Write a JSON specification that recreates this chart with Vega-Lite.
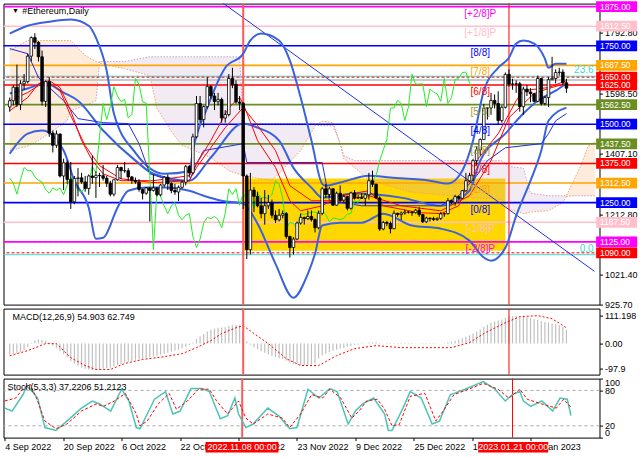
{
"$schema":"https://vega.github.io/schema/vega-lite/v6.json",
"background":"white",
"padding":{"left":1.5,"top":0.6,"right":0,"bottom":0},
"spacing":4,
"bounds":"flush",
"config":{"view":{"stroke":"#000","strokeWidth":1},"font":"Liberation Sans","axis":{"domain":false,"grid":false,"labelFont":"Liberation Sans","labelFontSize":9,"labelColor":"#000","tickColor":"#000","tickSize":3,"labelPadding":2}},
"datasets":{
"candles":[
{"date":"2022-09-04","o":1555,"h":1585,"l":1540,"c":1575},
{"date":"2022-09-05","o":1575,"h":1625,"l":1560,"c":1618},
{"date":"2022-09-06","o":1618,"h":1690,"l":1555,"c":1563},
{"date":"2022-09-07","o":1563,"h":1640,"l":1545,"c":1629},
{"date":"2022-09-08","o":1629,"h":1660,"l":1610,"c":1636},
{"date":"2022-09-09","o":1636,"h":1725,"l":1630,"c":1717},
{"date":"2022-09-10","o":1717,"h":1780,"l":1700,"c":1776},
{"date":"2022-09-11","o":1776,"h":1790,"l":1740,"c":1761},
{"date":"2022-09-12","o":1761,"h":1765,"l":1700,"c":1715},
{"date":"2022-09-13","o":1715,"h":1735,"l":1560,"c":1573},
{"date":"2022-09-14","o":1573,"h":1640,"l":1555,"c":1636},
{"date":"2022-09-15","o":1636,"h":1650,"l":1460,"c":1472},
{"date":"2022-09-16","o":1472,"h":1480,"l":1410,"c":1433},
{"date":"2022-09-17","o":1433,"h":1480,"l":1425,"c":1469},
{"date":"2022-09-18","o":1469,"h":1470,"l":1330,"c":1335},
{"date":"2022-09-19","o":1335,"h":1390,"l":1290,"c":1377},
{"date":"2022-09-20","o":1377,"h":1385,"l":1310,"c":1324},
{"date":"2022-09-21","o":1324,"h":1380,"l":1230,"c":1253},
{"date":"2022-09-22","o":1253,"h":1335,"l":1245,"c":1327},
{"date":"2022-09-23","o":1327,"h":1360,"l":1270,"c":1329},
{"date":"2022-09-24","o":1329,"h":1345,"l":1310,"c":1316},
{"date":"2022-09-25","o":1316,"h":1335,"l":1285,"c":1295},
{"date":"2022-09-26","o":1295,"h":1340,"l":1275,"c":1335},
{"date":"2022-09-27","o":1335,"h":1400,"l":1310,"c":1330},
{"date":"2022-09-28","o":1330,"h":1350,"l":1265,"c":1337},
{"date":"2022-09-29","o":1337,"h":1345,"l":1300,"c":1336},
{"date":"2022-09-30","o":1336,"h":1370,"l":1320,"c":1328},
{"date":"2022-10-01","o":1328,"h":1335,"l":1300,"c":1312},
{"date":"2022-10-02","o":1312,"h":1320,"l":1270,"c":1277},
{"date":"2022-10-03","o":1277,"h":1325,"l":1270,"c":1323},
{"date":"2022-10-04","o":1323,"h":1370,"l":1320,"c":1362},
{"date":"2022-10-05","o":1362,"h":1365,"l":1325,"c":1352},
{"date":"2022-10-06","o":1352,"h":1380,"l":1345,"c":1352},
{"date":"2022-10-07","o":1352,"h":1360,"l":1320,"c":1332},
{"date":"2022-10-08","o":1332,"h":1335,"l":1310,"c":1321},
{"date":"2022-10-09","o":1321,"h":1330,"l":1310,"c":1316},
{"date":"2022-10-10","o":1316,"h":1325,"l":1285,"c":1292},
{"date":"2022-10-11","o":1292,"h":1295,"l":1260,"c":1280},
{"date":"2022-10-12","o":1280,"h":1300,"l":1275,"c":1297},
{"date":"2022-10-13","o":1297,"h":1300,"l":1190,"c":1289},
{"date":"2022-10-14","o":1289,"h":1340,"l":1285,"c":1297},
{"date":"2022-10-15","o":1297,"h":1300,"l":1270,"c":1275},
{"date":"2022-10-16","o":1275,"h":1310,"l":1270,"c":1306},
{"date":"2022-10-17","o":1306,"h":1335,"l":1300,"c":1331},
{"date":"2022-10-18","o":1331,"h":1340,"l":1290,"c":1311},
{"date":"2022-10-19","o":1311,"h":1315,"l":1280,"c":1289},
{"date":"2022-10-20","o":1289,"h":1310,"l":1275,"c":1284},
{"date":"2022-10-21","o":1284,"h":1305,"l":1255,"c":1299},
{"date":"2022-10-22","o":1299,"h":1320,"l":1295,"c":1315},
{"date":"2022-10-23","o":1315,"h":1370,"l":1305,"c":1365},
{"date":"2022-10-24","o":1365,"h":1370,"l":1330,"c":1345},
{"date":"2022-10-25","o":1345,"h":1470,"l":1340,"c":1460},
{"date":"2022-10-26","o":1460,"h":1590,"l":1455,"c":1566},
{"date":"2022-10-27","o":1566,"h":1590,"l":1505,"c":1515},
{"date":"2022-10-28","o":1515,"h":1560,"l":1490,"c":1556},
{"date":"2022-10-29","o":1556,"h":1650,"l":1550,"c":1620},
{"date":"2022-10-30","o":1620,"h":1625,"l":1580,"c":1590},
{"date":"2022-10-31","o":1590,"h":1600,"l":1545,"c":1572},
{"date":"2022-11-01","o":1572,"h":1600,"l":1560,"c":1579},
{"date":"2022-11-02","o":1579,"h":1585,"l":1505,"c":1520},
{"date":"2022-11-03","o":1520,"h":1545,"l":1505,"c":1531},
{"date":"2022-11-04","o":1531,"h":1660,"l":1525,"c":1646},
{"date":"2022-11-05","o":1646,"h":1680,"l":1615,"c":1627},
{"date":"2022-11-06","o":1627,"h":1640,"l":1565,"c":1571},
{"date":"2022-11-07","o":1571,"h":1590,"l":1545,"c":1567},
{"date":"2022-11-08","o":1567,"h":1570,"l":1230,"c":1335},
{"date":"2022-11-09","o":1335,"h":1340,"l":1070,"c":1100},
{"date":"2022-11-10","o":1100,"h":1345,"l":1085,"c":1290},
{"date":"2022-11-11","o":1290,"h":1300,"l":1220,"c":1270},
{"date":"2022-11-12","o":1270,"h":1285,"l":1235,"c":1240},
{"date":"2022-11-13","o":1240,"h":1265,"l":1200,"c":1215},
{"date":"2022-11-14","o":1215,"h":1290,"l":1180,"c":1240},
{"date":"2022-11-15","o":1240,"h":1275,"l":1230,"c":1250},
{"date":"2022-11-16","o":1250,"h":1260,"l":1200,"c":1210},
{"date":"2022-11-17","o":1210,"h":1225,"l":1185,"c":1195},
{"date":"2022-11-18","o":1195,"h":1230,"l":1190,"c":1210},
{"date":"2022-11-19","o":1210,"h":1225,"l":1200,"c":1215},
{"date":"2022-11-20","o":1215,"h":1220,"l":1135,"c":1142},
{"date":"2022-11-21","o":1142,"h":1145,"l":1075,"c":1107},
{"date":"2022-11-22","o":1107,"h":1140,"l":1085,"c":1134},
{"date":"2022-11-23","o":1134,"h":1190,"l":1130,"c":1185},
{"date":"2022-11-24","o":1185,"h":1215,"l":1180,"c":1203},
{"date":"2022-11-25","o":1203,"h":1205,"l":1180,"c":1199},
{"date":"2022-11-26","o":1199,"h":1225,"l":1195,"c":1206},
{"date":"2022-11-27","o":1206,"h":1225,"l":1190,"c":1196},
{"date":"2022-11-28","o":1196,"h":1200,"l":1155,"c":1170},
{"date":"2022-11-29","o":1170,"h":1225,"l":1165,"c":1216},
{"date":"2022-11-30","o":1216,"h":1300,"l":1210,"c":1294},
{"date":"2022-12-01","o":1294,"h":1310,"l":1265,"c":1276},
{"date":"2022-12-02","o":1276,"h":1300,"l":1265,"c":1294},
{"date":"2022-12-03","o":1294,"h":1295,"l":1240,"c":1242},
{"date":"2022-12-04","o":1242,"h":1285,"l":1240,"c":1280},
{"date":"2022-12-05","o":1280,"h":1305,"l":1250,"c":1258},
{"date":"2022-12-06","o":1258,"h":1275,"l":1250,"c":1270},
{"date":"2022-12-07","o":1270,"h":1272,"l":1225,"c":1232},
{"date":"2022-12-08","o":1232,"h":1285,"l":1228,"c":1281},
{"date":"2022-12-09","o":1281,"h":1290,"l":1260,"c":1265},
{"date":"2022-12-10","o":1265,"h":1275,"l":1262,"c":1266},
{"date":"2022-12-11","o":1266,"h":1280,"l":1262,"c":1264},
{"date":"2022-12-12","o":1264,"h":1280,"l":1240,"c":1275},
{"date":"2022-12-13","o":1275,"h":1345,"l":1260,"c":1320},
{"date":"2022-12-14","o":1320,"h":1352,"l":1300,"c":1309},
{"date":"2022-12-15","o":1309,"h":1310,"l":1262,"c":1265},
{"date":"2022-12-16","o":1265,"h":1270,"l":1160,"c":1166},
{"date":"2022-12-17","o":1166,"h":1192,"l":1162,"c":1187},
{"date":"2022-12-18","o":1187,"h":1192,"l":1175,"c":1184},
{"date":"2022-12-19","o":1184,"h":1190,"l":1152,"c":1167},
{"date":"2022-12-20","o":1167,"h":1225,"l":1165,"c":1216},
{"date":"2022-12-21","o":1216,"h":1218,"l":1205,"c":1212},
{"date":"2022-12-22","o":1212,"h":1222,"l":1195,"c":1217},
{"date":"2022-12-23","o":1217,"h":1228,"l":1212,"c":1220},
{"date":"2022-12-24","o":1220,"h":1223,"l":1215,"c":1220},
{"date":"2022-12-25","o":1220,"h":1222,"l":1208,"c":1218},
{"date":"2022-12-26","o":1218,"h":1230,"l":1215,"c":1226},
{"date":"2022-12-27","o":1226,"h":1235,"l":1205,"c":1212},
{"date":"2022-12-28","o":1212,"h":1214,"l":1185,"c":1189},
{"date":"2022-12-29","o":1189,"h":1205,"l":1185,"c":1201},
{"date":"2022-12-30","o":1201,"h":1202,"l":1190,"c":1199},
{"date":"2022-12-31","o":1199,"h":1205,"l":1192,"c":1196},
{"date":"2023-01-01","o":1196,"h":1203,"l":1192,"c":1200},
{"date":"2023-01-02","o":1200,"h":1220,"l":1195,"c":1214},
{"date":"2023-01-03","o":1214,"h":1218,"l":1205,"c":1215},
{"date":"2023-01-04","o":1215,"h":1265,"l":1212,"c":1256},
{"date":"2023-01-05","o":1256,"h":1258,"l":1245,"c":1251},
{"date":"2023-01-06","o":1251,"h":1275,"l":1240,"c":1269},
{"date":"2023-01-07","o":1269,"h":1272,"l":1260,"c":1264},
{"date":"2023-01-08","o":1264,"h":1290,"l":1262,"c":1288},
{"date":"2023-01-09","o":1288,"h":1345,"l":1285,"c":1320},
{"date":"2023-01-10","o":1320,"h":1345,"l":1315,"c":1336},
{"date":"2023-01-11","o":1336,"h":1390,"l":1320,"c":1384},
{"date":"2023-01-12","o":1384,"h":1430,"l":1370,"c":1418},
{"date":"2023-01-13","o":1418,"h":1455,"l":1400,"c":1451},
{"date":"2023-01-14","o":1451,"h":1565,"l":1450,"c":1551},
{"date":"2023-01-15","o":1551,"h":1555,"l":1515,"c":1552},
{"date":"2023-01-16","o":1552,"h":1600,"l":1530,"c":1576},
{"date":"2023-01-17","o":1576,"h":1595,"l":1550,"c":1566},
{"date":"2023-01-18","o":1566,"h":1605,"l":1500,"c":1512},
{"date":"2023-01-19","o":1512,"h":1560,"l":1505,"c":1554},
{"date":"2023-01-20","o":1554,"h":1665,"l":1550,"c":1659},
{"date":"2023-01-21","o":1659,"h":1675,"l":1620,"c":1628},
{"date":"2023-01-22","o":1628,"h":1645,"l":1610,"c":1628},
{"date":"2023-01-23","o":1628,"h":1640,"l":1600,"c":1629},
{"date":"2023-01-24","o":1629,"h":1635,"l":1540,"c":1556},
{"date":"2023-01-25","o":1556,"h":1620,"l":1530,"c":1612},
{"date":"2023-01-26","o":1612,"h":1625,"l":1590,"c":1603},
{"date":"2023-01-27","o":1603,"h":1615,"l":1570,"c":1597},
{"date":"2023-01-28","o":1597,"h":1600,"l":1570,"c":1573},
{"date":"2023-01-29","o":1573,"h":1655,"l":1570,"c":1646},
{"date":"2023-01-30","o":1646,"h":1648,"l":1560,"c":1566},
{"date":"2023-01-31","o":1566,"h":1590,"l":1560,"c":1585},
{"date":"2023-02-01","o":1585,"h":1650,"l":1555,"c":1642},
{"date":"2023-02-02","o":1642,"h":1715,"l":1640,"c":1646},
{"date":"2023-02-03","o":1646,"h":1675,"l":1630,"c":1665},
{"date":"2023-02-04","o":1665,"h":1680,"l":1655,"c":1666},
{"date":"2023-02-05","o":1666,"h":1675,"l":1625,"c":1632},
{"date":"2023-02-06","o":1632,"h":1645,"l":1600,"c":1615}
],
"bands":[
{"s":"upper","date":"2022-09-04","p":1789},{"s":"upper","date":"2022-09-09","p":1814},{"s":"upper","date":"2022-09-15","p":1827},{"s":"upper","date":"2022-09-21","p":1834},{"s":"upper","date":"2022-09-26","p":1814},{"s":"upper","date":"2022-09-28","p":1776},{"s":"upper","date":"2022-10-01","p":1670},{"s":"upper","date":"2022-10-03","p":1534},{"s":"upper","date":"2022-10-09","p":1409},{"s":"upper","date":"2022-10-17","p":1342},{"s":"upper","date":"2022-10-24","p":1350},{"s":"upper","date":"2022-10-25","p":1416},{"s":"upper","date":"2022-10-29","p":1553},{"s":"upper","date":"2022-11-03","p":1680},{"s":"upper","date":"2022-11-08","p":1725},{"s":"upper","date":"2022-11-10","p":1767},{"s":"upper","date":"2022-11-13","p":1789},{"s":"upper","date":"2022-11-18","p":1767},{"s":"upper","date":"2022-11-21","p":1703},{"s":"upper","date":"2022-11-24","p":1585},{"s":"upper","date":"2022-11-27","p":1448},{"s":"upper","date":"2022-11-30","p":1310},{"s":"upper","date":"2022-12-01","p":1304},{"s":"upper","date":"2022-12-05","p":1314},{"s":"upper","date":"2022-12-13","p":1336},{"s":"upper","date":"2022-12-19","p":1330},{"s":"upper","date":"2022-12-30","p":1320},{"s":"upper","date":"2023-01-04","p":1311},{"s":"upper","date":"2023-01-08","p":1352},{"s":"upper","date":"2023-01-11","p":1448},{"s":"upper","date":"2023-01-14","p":1607},{"s":"upper","date":"2023-01-18","p":1680},{"s":"upper","date":"2023-01-21","p":1712},{"s":"upper","date":"2023-01-23","p":1757},{"s":"upper","date":"2023-01-25","p":1767},{"s":"upper","date":"2023-01-28","p":1757},{"s":"upper","date":"2023-01-31","p":1709},{"s":"upper","date":"2023-02-01","p":1680},{"s":"upper","date":"2023-02-03","p":1693},{"s":"upper","date":"2023-02-06","p":1693},
{"s":"middle","date":"2022-09-04","p":1598},{"s":"middle","date":"2022-09-09","p":1614},{"s":"middle","date":"2022-09-14","p":1630},{"s":"middle","date":"2022-09-19","p":1601},{"s":"middle","date":"2022-09-23","p":1575},{"s":"middle","date":"2022-09-30","p":1480},{"s":"middle","date":"2022-10-09","p":1384},{"s":"middle","date":"2022-10-14","p":1342},{"s":"middle","date":"2022-10-24","p":1320},{"s":"middle","date":"2022-10-30","p":1394},{"s":"middle","date":"2022-11-08","p":1502},{"s":"middle","date":"2022-11-12","p":1489},{"s":"middle","date":"2022-11-18","p":1448},{"s":"middle","date":"2022-11-22","p":1361},{"s":"middle","date":"2022-11-27","p":1298},{"s":"middle","date":"2022-11-30","p":1266},{"s":"middle","date":"2022-12-09","p":1279},{"s":"middle","date":"2022-12-22","p":1266},{"s":"middle","date":"2023-01-02","p":1240},{"s":"middle","date":"2023-01-10","p":1288},{"s":"middle","date":"2023-01-13","p":1384},{"s":"middle","date":"2023-01-20","p":1470},{"s":"middle","date":"2023-01-25","p":1534},{"s":"middle","date":"2023-01-29","p":1575},{"s":"middle","date":"2023-02-03","p":1607},{"s":"middle","date":"2023-02-06","p":1630},
{"s":"lower","date":"2022-09-04","p":1406},{"s":"lower","date":"2022-09-09","p":1470},{"s":"lower","date":"2022-09-13","p":1480},{"s":"lower","date":"2022-09-19","p":1416},{"s":"lower","date":"2022-09-22","p":1320},{"s":"lower","date":"2022-09-26","p":1234},{"s":"lower","date":"2022-09-28","p":1135},{"s":"lower","date":"2022-09-30","p":1138},{"s":"lower","date":"2022-10-04","p":1234},{"s":"lower","date":"2022-10-07","p":1288},{"s":"lower","date":"2022-10-12","p":1298},{"s":"lower","date":"2022-10-17","p":1298},{"s":"lower","date":"2022-10-24","p":1288},{"s":"lower","date":"2022-10-28","p":1272},{"s":"lower","date":"2022-11-02","p":1256},{"s":"lower","date":"2022-11-08","p":1247},{"s":"lower","date":"2022-11-12","p":1183},{"s":"lower","date":"2022-11-17","p":1055},{"s":"lower","date":"2022-11-22","p":947},{"s":"lower","date":"2022-11-26","p":1023},{"s":"lower","date":"2022-11-28","p":1087},{"s":"lower","date":"2022-11-30","p":1177},{"s":"lower","date":"2022-12-05","p":1186},{"s":"lower","date":"2022-12-11","p":1186},{"s":"lower","date":"2022-12-17","p":1215},{"s":"lower","date":"2022-12-25","p":1177},{"s":"lower","date":"2023-01-02","p":1167},{"s":"lower","date":"2023-01-10","p":1129},{"s":"lower","date":"2023-01-14","p":1075},{"s":"lower","date":"2023-01-16","p":1065},{"s":"lower","date":"2023-01-20","p":1106},{"s":"lower","date":"2023-01-23","p":1208},{"s":"lower","date":"2023-01-27","p":1320},{"s":"lower","date":"2023-01-30","p":1416},{"s":"lower","date":"2023-02-01","p":1511},{"s":"lower","date":"2023-02-06","p":1553},
{"s":"kijun","date":"2022-09-04","p":1741},{"s":"kijun","date":"2022-09-09","p":1725},{"s":"kijun","date":"2022-09-12","p":1649},{"s":"kijun","date":"2022-09-15","p":1617},{"s":"kijun","date":"2022-09-19","p":1575},{"s":"kijun","date":"2022-09-23","p":1518},{"s":"kijun","date":"2022-09-30","p":1505},{"s":"kijun","date":"2022-10-07","p":1502},{"s":"kijun","date":"2022-10-10","p":1438},{"s":"kijun","date":"2022-10-13","p":1342},{"s":"kijun","date":"2022-10-19","p":1320},{"s":"kijun","date":"2022-10-24","p":1320},{"s":"kijun","date":"2022-10-26","p":1374},{"s":"kijun","date":"2022-10-28","p":1416},{"s":"kijun","date":"2022-11-08","p":1438},{"s":"kijun","date":"2022-11-09","p":1378},{"s":"kijun","date":"2022-11-30","p":1378},{"s":"kijun","date":"2022-12-02","p":1256},{"s":"kijun","date":"2022-12-11","p":1240},{"s":"kijun","date":"2023-01-02","p":1240},{"s":"kijun","date":"2023-01-07","p":1272},{"s":"kijun","date":"2023-01-12","p":1336},{"s":"kijun","date":"2023-01-15","p":1384},{"s":"kijun","date":"2023-01-20","p":1425},{"s":"kijun","date":"2023-01-30","p":1438},{"s":"kijun","date":"2023-02-01","p":1470},{"s":"kijun","date":"2023-02-03","p":1511},{"s":"kijun","date":"2023-02-06","p":1534},
{"s":"tenkan","date":"2022-09-04","p":1543},{"s":"tenkan","date":"2022-09-09","p":1585},{"s":"tenkan","date":"2022-09-12","p":1629},{"s":"tenkan","date":"2022-09-15","p":1639},{"s":"tenkan","date":"2022-09-18","p":1617},{"s":"tenkan","date":"2022-09-21","p":1543},{"s":"tenkan","date":"2022-09-24","p":1448},{"s":"tenkan","date":"2022-09-27","p":1384},{"s":"tenkan","date":"2022-09-30","p":1342},{"s":"tenkan","date":"2022-10-05","p":1320},{"s":"tenkan","date":"2022-10-14","p":1320},{"s":"tenkan","date":"2022-10-24","p":1336},{"s":"tenkan","date":"2022-10-30","p":1448},{"s":"tenkan","date":"2022-11-04","p":1553},{"s":"tenkan","date":"2022-11-07","p":1585},{"s":"tenkan","date":"2022-11-08","p":1566},{"s":"tenkan","date":"2022-11-12","p":1448},{"s":"tenkan","date":"2022-11-17","p":1362},{"s":"tenkan","date":"2022-11-21","p":1256},{"s":"tenkan","date":"2022-11-24","p":1224},{"s":"tenkan","date":"2022-11-30","p":1240},{"s":"tenkan","date":"2022-12-05","p":1272},{"s":"tenkan","date":"2022-12-13","p":1288},{"s":"tenkan","date":"2022-12-17","p":1240},{"s":"tenkan","date":"2022-12-27","p":1218},{"s":"tenkan","date":"2023-01-02","p":1215},{"s":"tenkan","date":"2023-01-07","p":1240},{"s":"tenkan","date":"2023-01-12","p":1384},{"s":"tenkan","date":"2023-01-18","p":1470},{"s":"tenkan","date":"2023-01-23","p":1575},{"s":"tenkan","date":"2023-01-25","p":1607},{"s":"tenkan","date":"2023-02-01","p":1617},{"s":"tenkan","date":"2023-02-06","p":1639},
{"s":"ma","date":"2022-09-04","p":1575},{"s":"ma","date":"2022-09-09","p":1601},{"s":"ma","date":"2022-09-12","p":1623},{"s":"ma","date":"2022-09-15","p":1633},{"s":"ma","date":"2022-09-18","p":1607},{"s":"ma","date":"2022-09-21","p":1527},{"s":"ma","date":"2022-09-25","p":1432},{"s":"ma","date":"2022-09-29","p":1368},{"s":"ma","date":"2022-10-05","p":1326},{"s":"ma","date":"2022-10-14","p":1314},{"s":"ma","date":"2022-10-24","p":1320},{"s":"ma","date":"2022-10-26","p":1362},{"s":"ma","date":"2022-11-03","p":1489},{"s":"ma","date":"2022-11-08","p":1553},{"s":"ma","date":"2022-11-12","p":1496},{"s":"ma","date":"2022-11-17","p":1416},{"s":"ma","date":"2022-11-21","p":1304},{"s":"ma","date":"2022-11-27","p":1256},{"s":"ma","date":"2022-12-05","p":1256},{"s":"ma","date":"2022-12-13","p":1272},{"s":"ma","date":"2022-12-22","p":1240},{"s":"ma","date":"2023-01-02","p":1224},{"s":"ma","date":"2023-01-10","p":1272},{"s":"ma","date":"2023-01-16","p":1384},{"s":"ma","date":"2023-01-21","p":1521},{"s":"ma","date":"2023-01-28","p":1598},{"s":"ma","date":"2023-02-01","p":1614},{"s":"ma","date":"2023-02-06","p":1630}
],
"cloud":[
{"seg":"u1","date":"2022-09-04","a":1735,"b":1416},{"seg":"u1","date":"2022-09-09","a":1767,"b":1430},{"seg":"u1","date":"2022-09-12","a":1767,"b":1448},{"seg":"u1","date":"2022-09-20","a":1767,"b":1511},{"seg":"u1","date":"2022-09-21","a":1767,"b":1543},{"seg":"u1","date":"2022-09-25","a":1719,"b":1560},{"seg":"u1","date":"2022-09-28","a":1700,"b":1575},{"seg":"u1","date":"2022-09-29","a":1697,"b":1695},
{"seg":"d1","date":"2022-09-29","a":1695,"b":1700},{"seg":"d1","date":"2022-10-06","a":1677,"b":1700},{"seg":"d1","date":"2022-10-13","a":1655,"b":1715},{"seg":"d1","date":"2022-10-15","a":1550,"b":1715},{"seg":"d1","date":"2022-10-19","a":1477,"b":1715},{"seg":"d1","date":"2022-10-22","a":1432,"b":1715},{"seg":"d1","date":"2022-10-30","a":1394,"b":1715},{"seg":"d1","date":"2022-11-04","a":1352,"b":1715},{"seg":"d1","date":"2022-11-07","a":1340,"b":1715},{"seg":"d1","date":"2022-11-08","a":1336,"b":1502},{"seg":"d1","date":"2022-11-16","a":1320,"b":1502},{"seg":"d1","date":"2022-11-24","a":1416,"b":1502},{"seg":"d1","date":"2022-11-28","a":1495,"b":1502},
{"seg":"u2","date":"2022-11-28","a":1497,"b":1497},{"seg":"u2","date":"2022-11-30","a":1510,"b":1495},{"seg":"u2","date":"2022-12-03","a":1505,"b":1495},{"seg":"u2","date":"2022-12-05","a":1440,"b":1438},
{"seg":"d2","date":"2022-12-05","a":1438,"b":1440},{"seg":"d2","date":"2022-12-06","a":1390,"b":1400},{"seg":"d2","date":"2022-12-09","a":1362,"b":1384},{"seg":"d2","date":"2022-12-13","a":1323,"b":1384},{"seg":"d2","date":"2022-12-24","a":1285,"b":1384},{"seg":"d2","date":"2023-01-10","a":1266,"b":1384},{"seg":"d2","date":"2023-01-19","a":1260,"b":1384},{"seg":"d2","date":"2023-01-21","a":1230,"b":1365},{"seg":"d2","date":"2023-01-25","a":1215,"b":1360},{"seg":"d2","date":"2023-01-27","a":1220,"b":1280},{"seg":"d2","date":"2023-02-01","a":1225,"b":1272},{"seg":"d2","date":"2023-02-05","a":1250,"b":1272},{"seg":"d2","date":"2023-02-06","a":1270,"b":1272},
{"seg":"u3","date":"2023-02-06","a":1272,"b":1270},{"seg":"u3","date":"2023-02-08","a":1320,"b":1272},{"seg":"u3","date":"2023-02-10","a":1368,"b":1272},{"seg":"u3","date":"2023-02-12","a":1430,"b":1272},{"seg":"u3","date":"2023-02-14","a":1445,"b":1272}
],
"chikou":[
{"date":"2022-09-04","p":1328},{"date":"2022-09-05","p":1312},{"date":"2022-09-06","p":1277},{"date":"2022-09-07","p":1323},{"date":"2022-09-08","p":1362},{"date":"2022-09-09","p":1352},{"date":"2022-09-10","p":1352},{"date":"2022-09-11","p":1332},{"date":"2022-09-12","p":1321},{"date":"2022-09-13","p":1316},{"date":"2022-09-14","p":1292},{"date":"2022-09-15","p":1280},{"date":"2022-09-16","p":1297},{"date":"2022-09-17","p":1289},{"date":"2022-09-18","p":1297},{"date":"2022-09-19","p":1275},{"date":"2022-09-20","p":1306},{"date":"2022-09-21","p":1331},{"date":"2022-09-22","p":1311},{"date":"2022-09-23","p":1289},{"date":"2022-09-24","p":1284},{"date":"2022-09-25","p":1299},{"date":"2022-09-26","p":1315},{"date":"2022-09-27","p":1365},{"date":"2022-09-28","p":1345},{"date":"2022-09-29","p":1460},{"date":"2022-09-30","p":1566},
{"date":"2022-10-01","p":1515},{"date":"2022-10-02","p":1556},{"date":"2022-10-03","p":1620},{"date":"2022-10-04","p":1590},{"date":"2022-10-05","p":1572},{"date":"2022-10-06","p":1579},{"date":"2022-10-07","p":1520},{"date":"2022-10-08","p":1531},{"date":"2022-10-09","p":1646},{"date":"2022-10-10","p":1627},{"date":"2022-10-11","p":1571},{"date":"2022-10-12","p":1567},{"date":"2022-10-13","p":1335},{"date":"2022-10-14","p":1100},{"date":"2022-10-15","p":1290},{"date":"2022-10-16","p":1270},{"date":"2022-10-17","p":1240},{"date":"2022-10-18","p":1215},{"date":"2022-10-19","p":1240},{"date":"2022-10-20","p":1250},{"date":"2022-10-21","p":1210},{"date":"2022-10-22","p":1195},{"date":"2022-10-23","p":1210},{"date":"2022-10-24","p":1215},{"date":"2022-10-25","p":1142},{"date":"2022-10-26","p":1107},{"date":"2022-10-27","p":1134},{"date":"2022-10-28","p":1185},{"date":"2022-10-29","p":1203},{"date":"2022-10-30","p":1199},{"date":"2022-10-31","p":1206},
{"date":"2022-11-01","p":1196},{"date":"2022-11-02","p":1170},{"date":"2022-11-03","p":1216},{"date":"2022-11-04","p":1294},{"date":"2022-11-05","p":1276},{"date":"2022-11-06","p":1294},{"date":"2022-11-07","p":1242},{"date":"2022-11-08","p":1280},{"date":"2022-11-09","p":1258},{"date":"2022-11-10","p":1270},{"date":"2022-11-11","p":1232},{"date":"2022-11-12","p":1281},{"date":"2022-11-13","p":1265},{"date":"2022-11-14","p":1266},{"date":"2022-11-15","p":1264},{"date":"2022-11-16","p":1275},{"date":"2022-11-17","p":1320},{"date":"2022-11-18","p":1309},{"date":"2022-11-19","p":1265},{"date":"2022-11-20","p":1166},{"date":"2022-11-21","p":1187},{"date":"2022-11-22","p":1184},{"date":"2022-11-23","p":1167},{"date":"2022-11-24","p":1216},{"date":"2022-11-25","p":1212},{"date":"2022-11-26","p":1217},{"date":"2022-11-27","p":1220},{"date":"2022-11-28","p":1220},{"date":"2022-11-29","p":1218},{"date":"2022-11-30","p":1226},
{"date":"2022-12-01","p":1212},{"date":"2022-12-02","p":1189},{"date":"2022-12-03","p":1201},{"date":"2022-12-04","p":1199},{"date":"2022-12-05","p":1196},{"date":"2022-12-06","p":1200},{"date":"2022-12-07","p":1214},{"date":"2022-12-08","p":1215},{"date":"2022-12-09","p":1256},{"date":"2022-12-10","p":1251},{"date":"2022-12-11","p":1269},{"date":"2022-12-12","p":1264},{"date":"2022-12-13","p":1288},{"date":"2022-12-14","p":1320},{"date":"2022-12-15","p":1336},{"date":"2022-12-16","p":1384},{"date":"2022-12-17","p":1418},{"date":"2022-12-18","p":1451},{"date":"2022-12-19","p":1551},{"date":"2022-12-20","p":1552},{"date":"2022-12-21","p":1576},{"date":"2022-12-22","p":1566},{"date":"2022-12-23","p":1512},{"date":"2022-12-24","p":1554},{"date":"2022-12-25","p":1659},{"date":"2022-12-26","p":1628},{"date":"2022-12-27","p":1628},{"date":"2022-12-28","p":1629},{"date":"2022-12-29","p":1556},{"date":"2022-12-30","p":1612},{"date":"2022-12-31","p":1603},
{"date":"2023-01-01","p":1597},{"date":"2023-01-02","p":1573},{"date":"2023-01-03","p":1646},{"date":"2023-01-04","p":1566},{"date":"2023-01-05","p":1585},{"date":"2023-01-06","p":1642},{"date":"2023-01-07","p":1646},{"date":"2023-01-08","p":1665},{"date":"2023-01-09","p":1666},{"date":"2023-01-10","p":1632},{"date":"2023-01-11","p":1615}
],
"levels":[
{"level":"[+2/8]P","price":1875},{"level":"[+1/8]P","price":1812.5},{"level":"[8/8]","price":1750},{"level":"[7/8]","price":1687.5},{"level":"[6/8]","price":1625},{"level":"[5/8]","price":1562.5},{"level":"[4/8]","price":1500},{"level":"[3/8]","price":1437.5},{"level":"[2/8]","price":1375},{"level":"[1/8]","price":1312.5},{"level":"[0/8]","price":1250},{"level":"[-1/8]P","price":1187.5},{"level":"[-2/8]P","price":1125},{"level":"alert","price":1650},{"level":"alert","price":1090}
],
"fib":[{"fib":"23.6","price":1653},{"fib":"0.0","price":1084}],
"zone":[{"start":"2022-11-08","end":"2023-01-20","top":1327,"bottom":1097}],
"diag":[{"date":"2022-11-01T10:20:00Z","p":1894},{"date":"2023-02-13T19:12:00Z","p":1031}],
"macd":[
{"date":"2022-09-04","v":-42},{"date":"2022-09-05","v":-40},{"date":"2022-09-06","v":-38},{"date":"2022-09-07","v":-33},{"date":"2022-09-08","v":-27},{"date":"2022-09-09","v":-14},{"date":"2022-09-10","v":2},{"date":"2022-09-11","v":12},{"date":"2022-09-12","v":16},{"date":"2022-09-13","v":14},{"date":"2022-09-14","v":12},{"date":"2022-09-15","v":3},{"date":"2022-09-16","v":-8},{"date":"2022-09-17","v":-16},{"date":"2022-09-18","v":-30},{"date":"2022-09-19","v":-42},{"date":"2022-09-20","v":-55},{"date":"2022-09-21","v":-70},{"date":"2022-09-22","v":-80},{"date":"2022-09-23","v":-88},{"date":"2022-09-24","v":-95},{"date":"2022-09-25","v":-100},{"date":"2022-09-26","v":-103},{"date":"2022-09-27","v":-105},{"date":"2022-09-28","v":-105},{"date":"2022-09-29","v":-103},{"date":"2022-09-30","v":-100},
{"date":"2022-10-01","v":-97},{"date":"2022-10-02","v":-95},{"date":"2022-10-03","v":-91},{"date":"2022-10-04","v":-86},{"date":"2022-10-05","v":-81},{"date":"2022-10-06","v":-76},{"date":"2022-10-07","v":-72},{"date":"2022-10-08","v":-68},{"date":"2022-10-09","v":-64},{"date":"2022-10-10","v":-62},{"date":"2022-10-11","v":-60},{"date":"2022-10-12","v":-57},{"date":"2022-10-13","v":-54},{"date":"2022-10-14","v":-50},{"date":"2022-10-15","v":-47},{"date":"2022-10-16","v":-44},{"date":"2022-10-17","v":-40},{"date":"2022-10-18","v":-36},{"date":"2022-10-19","v":-32},{"date":"2022-10-20","v":-28},{"date":"2022-10-21","v":-24},{"date":"2022-10-22","v":-18},{"date":"2022-10-23","v":-12},{"date":"2022-10-24","v":-6},{"date":"2022-10-25","v":4},{"date":"2022-10-26","v":18},{"date":"2022-10-27","v":28},{"date":"2022-10-28","v":38},{"date":"2022-10-29","v":48},{"date":"2022-10-30","v":55},{"date":"2022-10-31","v":60},
{"date":"2022-11-01","v":63},{"date":"2022-11-02","v":64},{"date":"2022-11-03","v":65},{"date":"2022-11-04","v":70},{"date":"2022-11-05","v":73},{"date":"2022-11-06","v":74},{"date":"2022-11-07","v":73},{"date":"2022-11-08","v":45},{"date":"2022-11-09","v":8},{"date":"2022-11-10","v":-5},{"date":"2022-11-11","v":-14},{"date":"2022-11-12","v":-22},{"date":"2022-11-13","v":-30},{"date":"2022-11-14","v":-36},{"date":"2022-11-15","v":-42},{"date":"2022-11-16","v":-48},{"date":"2022-11-17","v":-54},{"date":"2022-11-18","v":-58},{"date":"2022-11-19","v":-62},{"date":"2022-11-20","v":-68},{"date":"2022-11-21","v":-75},{"date":"2022-11-22","v":-80},{"date":"2022-11-23","v":-83},{"date":"2022-11-24","v":-85},{"date":"2022-11-25","v":-85},{"date":"2022-11-26","v":-84},{"date":"2022-11-27","v":-82},{"date":"2022-11-28","v":-78},{"date":"2022-11-29","v":-60},{"date":"2022-11-30","v":-46},
{"date":"2022-12-01","v":-40},{"date":"2022-12-02","v":-34},{"date":"2022-12-03","v":-28},{"date":"2022-12-04","v":-24},{"date":"2022-12-05","v":-20},{"date":"2022-12-06","v":-16},{"date":"2022-12-07","v":-12},{"date":"2022-12-08","v":-9},{"date":"2022-12-09","v":-6},{"date":"2022-12-10","v":-4},{"date":"2022-12-11","v":-2},{"date":"2022-12-12","v":0},{"date":"2022-12-13","v":3},{"date":"2022-12-14","v":5},{"date":"2022-12-15","v":5},{"date":"2022-12-16","v":2},{"date":"2022-12-17","v":0},{"date":"2022-12-18","v":-2},{"date":"2022-12-19","v":-3},{"date":"2022-12-20","v":-3},{"date":"2022-12-21","v":-3},{"date":"2022-12-22","v":-3},{"date":"2022-12-23","v":-2},{"date":"2022-12-24","v":-2},{"date":"2022-12-25","v":-2},{"date":"2022-12-26","v":-1},{"date":"2022-12-27","v":-1},{"date":"2022-12-28","v":-2},{"date":"2022-12-29","v":-2},{"date":"2022-12-30","v":-2},{"date":"2022-12-31","v":-2},
{"date":"2023-01-01","v":-1},{"date":"2023-01-02","v":0},{"date":"2023-01-03","v":2},{"date":"2023-01-04","v":5},{"date":"2023-01-05","v":8},{"date":"2023-01-06","v":12},{"date":"2023-01-07","v":16},{"date":"2023-01-08","v":21},{"date":"2023-01-09","v":27},{"date":"2023-01-10","v":33},{"date":"2023-01-11","v":40},{"date":"2023-01-12","v":48},{"date":"2023-01-13","v":56},{"date":"2023-01-14","v":66},{"date":"2023-01-15","v":75},{"date":"2023-01-16","v":83},{"date":"2023-01-17","v":88},{"date":"2023-01-18","v":92},{"date":"2023-01-19","v":96},{"date":"2023-01-20","v":103},{"date":"2023-01-21","v":108},{"date":"2023-01-22","v":110},{"date":"2023-01-23","v":111},{"date":"2023-01-24","v":108},{"date":"2023-01-25","v":106},{"date":"2023-01-26","v":104},{"date":"2023-01-27","v":101},{"date":"2023-01-28","v":97},{"date":"2023-01-29","v":95},{"date":"2023-01-30","v":90},{"date":"2023-01-31","v":86},
{"date":"2023-02-01","v":84},{"date":"2023-02-02","v":80},{"date":"2023-02-03","v":77},{"date":"2023-02-04","v":73},{"date":"2023-02-05","v":66},{"date":"2023-02-06","v":55}
],
"macdsig":[
{"date":"2022-09-04","v":-48},{"date":"2022-09-09","v":-28},{"date":"2022-09-14","v":0},{"date":"2022-09-17","v":0},{"date":"2022-09-21","v":-56},{"date":"2022-09-25","v":-87},{"date":"2022-09-28","v":-103},{"date":"2022-10-02","v":-103},{"date":"2022-10-06","v":-79},{"date":"2022-10-11","v":-63},{"date":"2022-10-17","v":-52},{"date":"2022-10-22","v":-40},{"date":"2022-10-26","v":-16},{"date":"2022-10-30","v":12},{"date":"2022-11-02","v":40},{"date":"2022-11-06","v":63},{"date":"2022-11-08","v":71},{"date":"2022-11-11","v":40},{"date":"2022-11-15","v":0},{"date":"2022-11-20","v":-60},{"date":"2022-11-24","v":-87},{"date":"2022-11-29","v":-87},{"date":"2022-12-04","v":-48},{"date":"2022-12-09","v":-20},{"date":"2022-12-15","v":-8},{"date":"2022-12-22","v":-16},{"date":"2023-01-05","v":-16},{"date":"2023-01-10","v":4},{"date":"2023-01-14","v":40},{"date":"2023-01-20","v":83},{"date":"2023-01-24","v":107},{"date":"2023-01-29","v":111},{"date":"2023-02-02","v":99},{"date":"2023-02-06","v":62.7}
],
"stoch":[
{"s":"m","date":"2022-09-04","v":50},{"s":"m","date":"2022-09-06","v":45},{"s":"m","date":"2022-09-09","v":73},{"s":"m","date":"2022-09-10","v":87},{"s":"m","date":"2022-09-11","v":82},{"s":"m","date":"2022-09-13","v":67},{"s":"m","date":"2022-09-15","v":17},{"s":"m","date":"2022-09-18","v":12},{"s":"m","date":"2022-09-21","v":28},{"s":"m","date":"2022-09-25","v":50},{"s":"m","date":"2022-09-28","v":62},{"s":"m","date":"2022-09-30","v":57},{"s":"m","date":"2022-10-03","v":45},{"s":"m","date":"2022-10-06","v":82},{"s":"m","date":"2022-10-08","v":62},{"s":"m","date":"2022-10-10","v":17},{"s":"m","date":"2022-10-11","v":15},{"s":"m","date":"2022-10-13","v":40},{"s":"m","date":"2022-10-15","v":65},{"s":"m","date":"2022-10-18","v":78},{"s":"m","date":"2022-10-20","v":40},{"s":"m","date":"2022-10-22","v":45},{"s":"m","date":"2022-10-25","v":83},{"s":"m","date":"2022-10-28","v":83},{"s":"m","date":"2022-10-30","v":78},{"s":"m","date":"2022-11-02","v":32},{"s":"m","date":"2022-11-04","v":37},{"s":"m","date":"2022-11-06","v":67},{"s":"m","date":"2022-11-07","v":40},{"s":"m","date":"2022-11-09","v":17},{"s":"m","date":"2022-11-11","v":23},{"s":"m","date":"2022-11-15","v":50},{"s":"m","date":"2022-11-18","v":37},{"s":"m","date":"2022-11-21","v":15},{"s":"m","date":"2022-11-23","v":17},{"s":"m","date":"2022-11-26","v":82},{"s":"m","date":"2022-11-29","v":67},{"s":"m","date":"2022-12-02","v":83},{"s":"m","date":"2022-12-04","v":78},{"s":"m","date":"2022-12-07","v":23},{"s":"m","date":"2022-12-09","v":45},{"s":"m","date":"2022-12-11","v":57},{"s":"m","date":"2022-12-14","v":67},{"s":"m","date":"2022-12-17","v":40},{"s":"m","date":"2022-12-18","v":12},{"s":"m","date":"2022-12-19","v":12},{"s":"m","date":"2022-12-22","v":50},{"s":"m","date":"2022-12-24","v":78},{"s":"m","date":"2022-12-27","v":67},{"s":"m","date":"2022-12-30","v":23},{"s":"m","date":"2023-01-01","v":28},{"s":"m","date":"2023-01-04","v":73},{"s":"m","date":"2023-01-05","v":75},{"s":"m","date":"2023-01-08","v":82},{"s":"m","date":"2023-01-13","v":95},{"s":"m","date":"2023-01-16","v":83},{"s":"m","date":"2023-01-19","v":62},{"s":"m","date":"2023-01-21","v":73},{"s":"m","date":"2023-01-23","v":78},{"s":"m","date":"2023-01-24","v":62},{"s":"m","date":"2023-01-26","v":53},{"s":"m","date":"2023-01-29","v":62},{"s":"m","date":"2023-02-01","v":45},{"s":"m","date":"2023-02-03","v":67},{"s":"m","date":"2023-02-05","v":65},{"s":"m","date":"2023-02-06","v":37.2},
{"s":"g","date":"2022-09-04","v":62},{"s":"g","date":"2022-09-07","v":67},{"s":"g","date":"2022-09-09","v":83},{"s":"g","date":"2022-09-11","v":90},{"s":"g","date":"2022-09-13","v":62},{"s":"g","date":"2022-09-15","v":28},{"s":"g","date":"2022-09-18","v":15},{"s":"g","date":"2022-09-21","v":23},{"s":"g","date":"2022-09-25","v":45},{"s":"g","date":"2022-09-29","v":57},{"s":"g","date":"2022-10-01","v":53},{"s":"g","date":"2022-10-04","v":62},{"s":"g","date":"2022-10-07","v":75},{"s":"g","date":"2022-10-10","v":40},{"s":"g","date":"2022-10-11","v":20},{"s":"g","date":"2022-10-13","v":28},{"s":"g","date":"2022-10-16","v":57},{"s":"g","date":"2022-10-19","v":75},{"s":"g","date":"2022-10-21","v":48},{"s":"g","date":"2022-10-24","v":62},{"s":"g","date":"2022-10-27","v":82},{"s":"g","date":"2022-10-30","v":82},{"s":"g","date":"2022-11-01","v":62},{"s":"g","date":"2022-11-04","v":40},{"s":"g","date":"2022-11-07","v":62},{"s":"g","date":"2022-11-09","v":33},{"s":"g","date":"2022-11-11","v":23},{"s":"g","date":"2022-11-15","v":40},{"s":"g","date":"2022-11-19","v":33},{"s":"g","date":"2022-11-21","v":17},{"s":"g","date":"2022-11-24","v":40},{"s":"g","date":"2022-11-27","v":73},{"s":"g","date":"2022-11-30","v":67},{"s":"g","date":"2022-12-02","v":82},{"s":"g","date":"2022-12-05","v":67},{"s":"g","date":"2022-12-08","v":33},{"s":"g","date":"2022-12-10","v":45},{"s":"g","date":"2022-12-12","v":62},{"s":"g","date":"2022-12-15","v":65},{"s":"g","date":"2022-12-17","v":48},{"s":"g","date":"2022-12-19","v":20},{"s":"g","date":"2022-12-21","v":22},{"s":"g","date":"2022-12-24","v":70},{"s":"g","date":"2022-12-28","v":75},{"s":"g","date":"2022-12-31","v":28},{"s":"g","date":"2023-01-02","v":45},{"s":"g","date":"2023-01-05","v":73},{"s":"g","date":"2023-01-09","v":82},{"s":"g","date":"2023-01-13","v":92},{"s":"g","date":"2023-01-17","v":82},{"s":"g","date":"2023-01-20","v":67},{"s":"g","date":"2023-01-23","v":82},{"s":"g","date":"2023-01-25","v":65},{"s":"g","date":"2023-01-29","v":57},{"s":"g","date":"2023-02-02","v":50},{"s":"g","date":"2023-02-04","v":65},{"s":"g","date":"2023-02-06","v":51.2}
]
},
"vconcat":[
{
"width":596,"height":301,
"resolve":{"scale":{"color":"independent"}},
"layer":[
{"data":{"name":"zone"},"mark":{"type":"rect","color":"#ffd700","clip":true},
 "encoding":{"x":{"field":"start","type":"temporal","scale":{"type":"utc","domain":[1662220051200,1676316384000]},"axis":null},"x2":{"field":"end"},
 "y":{"field":"top","type":"quantitative","scale":{"domain":[925,1884.6]},"axis":{"orient":"right","values":[1792.8,1598.5,1407.1,1212.8,1021.4,925.7],"format":".2f","title":null}},"y2":{"field":"bottom"}}},
{"data":{"name":"cloud"},"mark":{"type":"area","clip":true,"opacity":0.22},
 "encoding":{"x":{"field":"date","type":"temporal","scale":{"type":"utc","domain":[1662220051200,1676316384000]},"axis":null},
 "y":{"field":"a","type":"quantitative","scale":{"domain":[925,1884.6]},"axis":{"orient":"right","values":[1792.8,1598.5,1407.1,1212.8,1021.4,925.7],"format":".2f","title":null}},"y2":{"field":"b"},
 "color":{"field":"seg","type":"nominal","scale":{"domain":["u1","d1","u2","d2","u3"],"range":["#f4a460","#c8a2c8","#f4a460","#c8a2c8","#f4a460"]},"legend":null}}},
{"data":{"name":"cloud"},"mark":{"type":"line","clip":true,"color":"#f4a460","strokeWidth":1,"strokeDash":[1.5,1.5]},
 "encoding":{"x":{"field":"date","type":"temporal","scale":{"type":"utc","domain":[1662220051200,1676316384000]},"axis":null},
 "y":{"field":"a","type":"quantitative","scale":{"domain":[925,1884.6]},"axis":{"orient":"right","values":[1792.8,1598.5,1407.1,1212.8,1021.4,925.7],"format":".2f","title":null}}}},
{"data":{"name":"cloud"},"mark":{"type":"line","clip":true,"color":"#c8a2c8","strokeWidth":1,"strokeDash":[1.5,1.5]},
 "encoding":{"x":{"field":"date","type":"temporal","scale":{"type":"utc","domain":[1662220051200,1676316384000]},"axis":null},
 "y":{"field":"b","type":"quantitative","scale":{"domain":[925,1884.6]},"axis":{"orient":"right","values":[1792.8,1598.5,1407.1,1212.8,1021.4,925.7],"format":".2f","title":null}}}},
{"data":{"values":[{"price":1641}]},"mark":{"type":"rule","color":"#c8c8c8","strokeWidth":2},
 "encoding":{"y":{"field":"price","type":"quantitative","scale":{"domain":[925,1884.6]},"axis":{"orient":"right","values":[1792.8,1598.5,1407.1,1212.8,1021.4,925.7],"format":".2f","title":null}}}},
{"data":{"name":"levels"},"transform":[{"filter":"datum.level != 'alert'"}],"mark":{"type":"rule","strokeWidth":1.6},
 "encoding":{"y":{"field":"price","type":"quantitative","scale":{"domain":[925,1884.6]},"axis":{"orient":"right","values":[1792.8,1598.5,1407.1,1212.8,1021.4,925.7],"format":".2f","title":null}},
 "color":{"field":"level","type":"nominal","scale":{"domain":["[+2/8]P","[+1/8]P","[8/8]","[7/8]","[6/8]","[5/8]","[4/8]","[3/8]","[2/8]","[1/8]","[0/8]","[-1/8]P","[-2/8]P","alert"],"range":["#ff00ff","#ffc0cb","#0000ff","#ffa500","#ff0000","#6b8e23","#0000ff","#6b8e23","#ff0000","#ffa500","#0000ff","#ffc0cb","#ff00ff","#ff0000"]},"legend":null}}},
{"data":{"name":"fib"},"mark":{"type":"rule","color":"#40d8d0","strokeWidth":1},
 "encoding":{"y":{"field":"price","type":"quantitative","scale":{"domain":[925,1884.6]},"axis":{"orient":"right","values":[1792.8,1598.5,1407.1,1212.8,1021.4,925.7],"format":".2f","title":null}}}},
{"data":{"name":"levels"},"transform":[{"filter":"datum.level == 'alert'"}],"mark":{"type":"rule","color":"#ff0000","strokeWidth":1,"strokeDash":[3,2]},
 "encoding":{"y":{"field":"price","type":"quantitative","scale":{"domain":[925,1884.6]},"axis":{"orient":"right","values":[1792.8,1598.5,1407.1,1212.8,1021.4,925.7],"format":".2f","title":null}}}},
{"data":{"name":"diag"},"mark":{"type":"line","clip":true,"color":"#2030e0","strokeWidth":1},
 "encoding":{"x":{"field":"date","type":"temporal","scale":{"type":"utc","domain":[1662220051200,1676316384000]},"axis":null},
 "y":{"field":"p","type":"quantitative","scale":{"domain":[925,1884.6]},"axis":{"orient":"right","values":[1792.8,1598.5,1407.1,1212.8,1021.4,925.7],"format":".2f","title":null}}}},
{"data":{"values":[{}]},"mark":{"type":"rule","color":"#ff5a5a","strokeWidth":2},
 "encoding":{"x":{"datum":1667865600000,"type":"temporal","scale":{"type":"utc","domain":[1662220051200,1676316384000]},"axis":null}}},
{"data":{"values":[{}]},"mark":{"type":"rule","color":"#ff0000","strokeWidth":1},
 "encoding":{"x":{"datum":1674259200000,"type":"temporal","scale":{"type":"utc","domain":[1662220051200,1676316384000]},"axis":null}}},
{"data":{"name":"bands"},"transform":[{"filter":"datum.s == 'upper' || datum.s == 'middle' || datum.s == 'lower'"}],"mark":{"type":"line","clip":true,"color":"#3a62dc","strokeWidth":2,"interpolate":"monotone"},
 "encoding":{"x":{"field":"date","type":"temporal","scale":{"type":"utc","domain":[1662220051200,1676316384000]},"axis":null},
 "y":{"field":"p","type":"quantitative","scale":{"domain":[925,1884.6]},"axis":{"orient":"right","values":[1792.8,1598.5,1407.1,1212.8,1021.4,925.7],"format":".2f","title":null}},"detail":{"field":"s"}}},
{"data":{"name":"bands"},"transform":[{"filter":"datum.s == 'kijun'"}],"mark":{"type":"line","clip":true,"color":"#1e2ee0","strokeWidth":1},
 "encoding":{"x":{"field":"date","type":"temporal","scale":{"type":"utc","domain":[1662220051200,1676316384000]},"axis":null},
 "y":{"field":"p","type":"quantitative","scale":{"domain":[925,1884.6]},"axis":{"orient":"right","values":[1792.8,1598.5,1407.1,1212.8,1021.4,925.7],"format":".2f","title":null}}}},
{"data":{"name":"bands"},"transform":[{"filter":"datum.s == 'tenkan' || datum.s == 'ma'"}],"mark":{"type":"line","clip":true,"color":"#ff0000","strokeWidth":1},
 "encoding":{"x":{"field":"date","type":"temporal","scale":{"type":"utc","domain":[1662220051200,1676316384000]},"axis":null},
 "y":{"field":"p","type":"quantitative","scale":{"domain":[925,1884.6]},"axis":{"orient":"right","values":[1792.8,1598.5,1407.1,1212.8,1021.4,925.7],"format":".2f","title":null}},"detail":{"field":"s"}}},
{"data":{"name":"chikou"},"mark":{"type":"line","clip":true,"color":"#22ee22","strokeWidth":1},
 "encoding":{"x":{"field":"date","type":"temporal","scale":{"type":"utc","domain":[1662220051200,1676316384000]},"axis":null},
 "y":{"field":"p","type":"quantitative","scale":{"domain":[925,1884.6]},"axis":{"orient":"right","values":[1792.8,1598.5,1407.1,1212.8,1021.4,925.7],"format":".2f","title":null}}}},
{"data":{"name":"candles"},"mark":{"type":"rule","clip":true,"color":"#000","strokeWidth":1},
 "encoding":{"x":{"field":"date","type":"temporal","scale":{"type":"utc","domain":[1662220051200,1676316384000]},"axis":null},
 "y":{"field":"l","type":"quantitative","scale":{"domain":[925,1884.6]},"axis":{"orient":"right","values":[1792.8,1598.5,1407.1,1212.8,1021.4,925.7],"format":".2f","title":null}},"y2":{"field":"h"}}},
{"data":{"name":"candles"},"mark":{"type":"bar","clip":true,"width":2.6,"stroke":"#000","strokeWidth":0.8},
 "encoding":{"x":{"field":"date","type":"temporal","scale":{"type":"utc","domain":[1662220051200,1676316384000]},"axis":null},
 "y":{"field":"o","type":"quantitative","scale":{"domain":[925,1884.6]},"axis":{"orient":"right","values":[1792.8,1598.5,1407.1,1212.8,1021.4,925.7],"format":".2f","title":null}},"y2":{"field":"c"},
 "fill":{"condition":{"test":"datum.c >= datum.o","value":"#ffffff"},"value":"#000000"}}},
{"data":{"name":"levels"},"transform":[{"filter":"datum.level != 'alert'"}],"mark":{"type":"text","align":"center","baseline":"top","dy":2,"fontSize":10},
 "encoding":{"x":{"datum":1673568000000,"type":"temporal","scale":{"type":"utc","domain":[1662220051200,1676316384000]},"axis":null},
 "y":{"field":"price","type":"quantitative","scale":{"domain":[925,1884.6]},"axis":{"orient":"right","values":[1792.8,1598.5,1407.1,1212.8,1021.4,925.7],"format":".2f","title":null}},"text":{"field":"level"},
 "color":{"field":"level","type":"nominal","scale":{"domain":["[+2/8]P","[+1/8]P","[8/8]","[7/8]","[6/8]","[5/8]","[4/8]","[3/8]","[2/8]","[1/8]","[0/8]","[-1/8]P","[-2/8]P","alert"],"range":["#ff00ff","#ffc0cb","#0000ff","#ffa500","#ff0000","#9a9a30","#0000ff","#9a9a30","#ff0000","#ffa500","#0000ff","#ffc0cb","#ff00ff","#ff0000"]},"legend":null}}},
{"data":{"name":"fib"},"mark":{"type":"text","align":"right","baseline":"bottom","dy":-1,"fontSize":10,"color":"#40d8d0"},
 "encoding":{"x":{"datum":1676293056000,"type":"temporal","scale":{"type":"utc","domain":[1662220051200,1676316384000]},"axis":null},
 "y":{"field":"price","type":"quantitative","scale":{"domain":[925,1884.6]},"axis":{"orient":"right","values":[1792.8,1598.5,1407.1,1212.8,1021.4,925.7],"format":".2f","title":null}},"text":{"field":"fib"}}},
{"data":{"values":[{}]},"mark":{"type":"text","align":"left","baseline":"middle","fontSize":9,"color":"#000","text":"#Ethereum,Daily"},
 "encoding":{"x":{"datum":1662551136000,"type":"temporal","scale":{"type":"utc","domain":[1662220051200,1676316384000]},"axis":null},
 "y":{"datum":1862,"type":"quantitative","scale":{"domain":[925,1884.6]},"axis":{"orient":"right","values":[1792.8,1598.5,1407.1,1212.8,1021.4,925.7],"format":".2f","title":null}}}},
{"data":{"values":[{}]},"mark":{"type":"text","align":"center","baseline":"middle","fontSize":7,"color":"#000","text":"▼"},
 "encoding":{"x":{"datum":1662385593600,"type":"temporal","scale":{"type":"utc","domain":[1662220051200,1676316384000]},"axis":null},
 "y":{"datum":1862,"type":"quantitative","scale":{"domain":[925,1884.6]},"axis":{"orient":"right","values":[1792.8,1598.5,1407.1,1212.8,1021.4,925.7],"format":".2f","title":null}}}},
{"data":{"name":"levels"},"mark":{"type":"point","shape":"M-1,-0.262L1,-0.262L1,0.262L-1,0.262Z","filled":true,"opacity":1,"size":1681,"strokeOpacity":0},
 "encoding":{"x":{"datum":1676848608000,"type":"temporal","scale":{"type":"utc","domain":[1662220051200,1676316384000]},"axis":null},
 "y":{"field":"price","type":"quantitative","scale":{"domain":[925,1884.6]},"axis":{"orient":"right","values":[1792.8,1598.5,1407.1,1212.8,1021.4,925.7],"format":".2f","title":null}},
 "color":{"field":"level","type":"nominal","scale":{"domain":["[+2/8]P","[+1/8]P","[8/8]","[7/8]","[6/8]","[5/8]","[4/8]","[3/8]","[2/8]","[1/8]","[0/8]","[-1/8]P","[-2/8]P","alert"],"range":["#ff00ff","#ffc0cb","#0000ff","#ffa500","#ff0000","#6b8e23","#0000ff","#6b8e23","#ff0000","#ffa500","#0000ff","#ffc0cb","#ff00ff","#ff0000"]},"legend":null}}},
{"data":{"name":"levels"},"mark":{"type":"text","align":"left","baseline":"middle","fontSize":8.5,"color":"#ffffff"},
 "encoding":{"x":{"datum":1676446848000,"type":"temporal","scale":{"type":"utc","domain":[1662220051200,1676316384000]},"axis":null},
 "y":{"field":"price","type":"quantitative","scale":{"domain":[925,1884.6]},"axis":{"orient":"right","values":[1792.8,1598.5,1407.1,1212.8,1021.4,925.7],"format":".2f","title":null}},"text":{"field":"price","format":".2f"}}}
]
},
{
"width":596,"height":66,
"layer":[
{"data":{"name":"macd"},"mark":{"type":"bar","width":1.2,"color":"#c0c0c0","clip":true},
 "encoding":{"x":{"field":"date","type":"temporal","scale":{"type":"utc","domain":[1662220051200,1676316384000]},"axis":null},
 "y":{"field":"v","type":"quantitative","scale":{"domain":[-123,139]},"axis":{"orient":"right","values":[111.198,0,-97.9],"labelExpr":"datum.value === 0 ? '0.00' : '' + datum.value","title":null}}}},
{"data":{"name":"macdsig"},"mark":{"type":"line","color":"#ff0000","strokeWidth":1,"strokeDash":[2,2],"clip":true},
 "encoding":{"x":{"field":"date","type":"temporal","scale":{"type":"utc","domain":[1662220051200,1676316384000]},"axis":null},
 "y":{"field":"v","type":"quantitative","scale":{"domain":[-123,139]},"axis":{"orient":"right","values":[111.198,0,-97.9],"labelExpr":"datum.value === 0 ? '0.00' : '' + datum.value","title":null}}}},
{"data":{"values":[{}]},"mark":{"type":"rule","color":"#ff5a5a","strokeWidth":2},
 "encoding":{"x":{"datum":1667865600000,"type":"temporal","scale":{"type":"utc","domain":[1662220051200,1676316384000]},"axis":null}}},
{"data":{"values":[{}]},"mark":{"type":"rule","color":"#ff0000","strokeWidth":1},
 "encoding":{"x":{"datum":1674259200000,"type":"temporal","scale":{"type":"utc","domain":[1662220051200,1676316384000]},"axis":null}}},
{"data":{"values":[{}]},"mark":{"type":"text","align":"left","baseline":"middle","fontSize":9,"color":"#000","text":"MACD(12,26,9) 54.903 62.749"},
 "encoding":{"x":{"datum":1662314659200,"type":"temporal","scale":{"type":"utc","domain":[1662220051200,1676316384000]},"axis":null},
 "y":{"datum":107,"type":"quantitative","scale":{"domain":[-123,139]},"axis":{"orient":"right","values":[111.198,0,-97.9],"labelExpr":"datum.value === 0 ? '0.00' : '' + datum.value","title":null}}}}
]
},
{
"width":596,"height":59,
"layer":[
{"data":{"values":[{"v":80},{"v":20}]},"mark":{"type":"rule","color":"#a8a8a8","strokeWidth":1,"strokeDash":[3,3]},
 "encoding":{"y":{"field":"v","type":"quantitative","scale":{"domain":[0,100]},"axis":{"orient":"right","values":[100,80,20,0],"format":"d","labelFlush":true,"labelOverlap":false,"title":null}}}},
{"data":{"values":[{}]},"mark":{"type":"rule","color":"#ff5a5a","strokeWidth":2},
 "encoding":{"x":{"datum":1667865600000,"type":"temporal","scale":{"type":"utc","domain":[1662220051200,1676316384000]},"axis":{"orient":"bottom","values":[1662249600000,1663632000000,1665014400000,1666396800000,1667779200000,1669161600000,1670544000000,1671926400000,1673308800000,1674691200000],"labelExpr":"utcFormat(datum.value, '%-d %b %Y')","labelAlign":"left","labelOverlap":false,"labelFlush":false,"labelBound":false,"title":null}}}},
{"data":{"values":[{}]},"mark":{"type":"rule","color":"#ff0000","strokeWidth":1},
 "encoding":{"x":{"datum":1674259200000,"type":"temporal","scale":{"type":"utc","domain":[1662220051200,1676316384000]},"axis":{"orient":"bottom","values":[1662249600000,1663632000000,1665014400000,1666396800000,1667779200000,1669161600000,1670544000000,1671926400000,1673308800000,1674691200000],"labelExpr":"utcFormat(datum.value, '%-d %b %Y')","labelAlign":"left","labelOverlap":false,"labelFlush":false,"labelBound":false,"title":null}}}},
{"data":{"name":"stoch"},"transform":[{"filter":"datum.s == 'm'"}],"mark":{"type":"line","color":"#4cc4b6","strokeWidth":1.5,"clip":true},
 "encoding":{"x":{"field":"date","type":"temporal","scale":{"type":"utc","domain":[1662220051200,1676316384000]},"axis":{"orient":"bottom","values":[1662249600000,1663632000000,1665014400000,1666396800000,1667779200000,1669161600000,1670544000000,1671926400000,1673308800000,1674691200000],"labelExpr":"utcFormat(datum.value, '%-d %b %Y')","labelAlign":"left","labelOverlap":false,"labelFlush":false,"labelBound":false,"title":null}},
 "y":{"field":"v","type":"quantitative","scale":{"domain":[0,100]},"axis":{"orient":"right","values":[100,80,20,0],"format":"d","labelFlush":true,"labelOverlap":false,"title":null}}}},
{"data":{"name":"stoch"},"transform":[{"filter":"datum.s == 'g'"}],"mark":{"type":"line","color":"#ff0000","strokeWidth":1,"strokeDash":[3,2],"clip":true},
 "encoding":{"x":{"field":"date","type":"temporal","scale":{"type":"utc","domain":[1662220051200,1676316384000]},"axis":{"orient":"bottom","values":[1662249600000,1663632000000,1665014400000,1666396800000,1667779200000,1669161600000,1670544000000,1671926400000,1673308800000,1674691200000],"labelExpr":"utcFormat(datum.value, '%-d %b %Y')","labelAlign":"left","labelOverlap":false,"labelFlush":false,"labelBound":false,"title":null}},
 "y":{"field":"v","type":"quantitative","scale":{"domain":[0,100]},"axis":{"orient":"right","values":[100,80,20,0],"format":"d","labelFlush":true,"labelOverlap":false,"title":null}}}},
{"data":{"values":[{}]},"mark":{"type":"text","align":"left","baseline":"middle","fontSize":9,"color":"#000","text":"Stoch(5,3,3) 37.2206 51.2123"},
 "encoding":{"x":{"datum":1662314659200,"type":"temporal","scale":{"type":"utc","domain":[1662220051200,1676316384000]},"axis":{"orient":"bottom","values":[1662249600000,1663632000000,1665014400000,1666396800000,1667779200000,1669161600000,1670544000000,1671926400000,1673308800000,1674691200000],"labelExpr":"utcFormat(datum.value, '%-d %b %Y')","labelAlign":"left","labelOverlap":false,"labelFlush":false,"labelBound":false,"title":null}},
 "y":{"datum":86,"type":"quantitative","scale":{"domain":[0,100]},"axis":{"orient":"right","values":[100,80,20,0],"format":"d","labelFlush":true,"labelOverlap":false,"title":null}}}},
{"data":{"values":[{}]},"mark":{"type":"rect","color":"#ff0000"},
 "encoding":{"x":{"datum":1666998144000,"type":"temporal","scale":{"type":"utc","domain":[1662220051200,1676316384000]},"axis":{"orient":"bottom","values":[1662249600000,1663632000000,1665014400000,1666396800000,1667779200000,1669161600000,1670544000000,1671926400000,1673308800000,1674691200000],"labelExpr":"utcFormat(datum.value, '%-d %b %Y')","labelAlign":"left","labelOverlap":false,"labelFlush":false,"labelBound":false,"title":null}},"x2":{"datum":1668724416000},
 "y":{"datum":-7.6,"type":"quantitative","scale":{"domain":[0,100]},"axis":{"orient":"right","values":[100,80,20,0],"format":"d","labelFlush":true,"labelOverlap":false,"title":null}},"y2":{"datum":-25.4}}},
{"data":{"values":[{}]},"mark":{"type":"rect","color":"#ff0000"},
 "encoding":{"x":{"datum":1673447904000,"type":"temporal","scale":{"type":"utc","domain":[1662220051200,1676316384000]},"axis":{"orient":"bottom","values":[1662249600000,1663632000000,1665014400000,1666396800000,1667779200000,1669161600000,1670544000000,1671926400000,1673308800000,1674691200000],"labelExpr":"utcFormat(datum.value, '%-d %b %Y')","labelAlign":"left","labelOverlap":false,"labelFlush":false,"labelBound":false,"title":null}},"x2":{"datum":1675103328000},
 "y":{"datum":-7.6,"type":"quantitative","scale":{"domain":[0,100]},"axis":{"orient":"right","values":[100,80,20,0],"format":"d","labelFlush":true,"labelOverlap":false,"title":null}},"y2":{"datum":-25.4}}},
{"data":{"values":[{}]},"mark":{"type":"text","align":"center","baseline":"middle","fontSize":9,"color":"#ffffff","text":"2022.11.08 00:00"},
 "encoding":{"x":{"datum":1667865600000,"type":"temporal","scale":{"type":"utc","domain":[1662220051200,1676316384000]},"axis":{"orient":"bottom","values":[1662249600000,1663632000000,1665014400000,1666396800000,1667779200000,1669161600000,1670544000000,1671926400000,1673308800000,1674691200000],"labelExpr":"utcFormat(datum.value, '%-d %b %Y')","labelAlign":"left","labelOverlap":false,"labelFlush":false,"labelBound":false,"title":null}},
 "y":{"datum":-16.4,"type":"quantitative","scale":{"domain":[0,100]},"axis":{"orient":"right","values":[100,80,20,0],"format":"d","labelFlush":true,"labelOverlap":false,"title":null}}}},
{"data":{"values":[{}]},"mark":{"type":"text","align":"center","baseline":"middle","fontSize":9,"color":"#ffffff","text":"2023.01.21 00:00"},
 "encoding":{"x":{"datum":1674275616000,"type":"temporal","scale":{"type":"utc","domain":[1662220051200,1676316384000]},"axis":{"orient":"bottom","values":[1662249600000,1663632000000,1665014400000,1666396800000,1667779200000,1669161600000,1670544000000,1671926400000,1673308800000,1674691200000],"labelExpr":"utcFormat(datum.value, '%-d %b %Y')","labelAlign":"left","labelOverlap":false,"labelFlush":false,"labelBound":false,"title":null}},
 "y":{"datum":-16.4,"type":"quantitative","scale":{"domain":[0,100]},"axis":{"orient":"right","values":[100,80,20,0],"format":"d","labelFlush":true,"labelOverlap":false,"title":null}}}}
]
}
]
}
